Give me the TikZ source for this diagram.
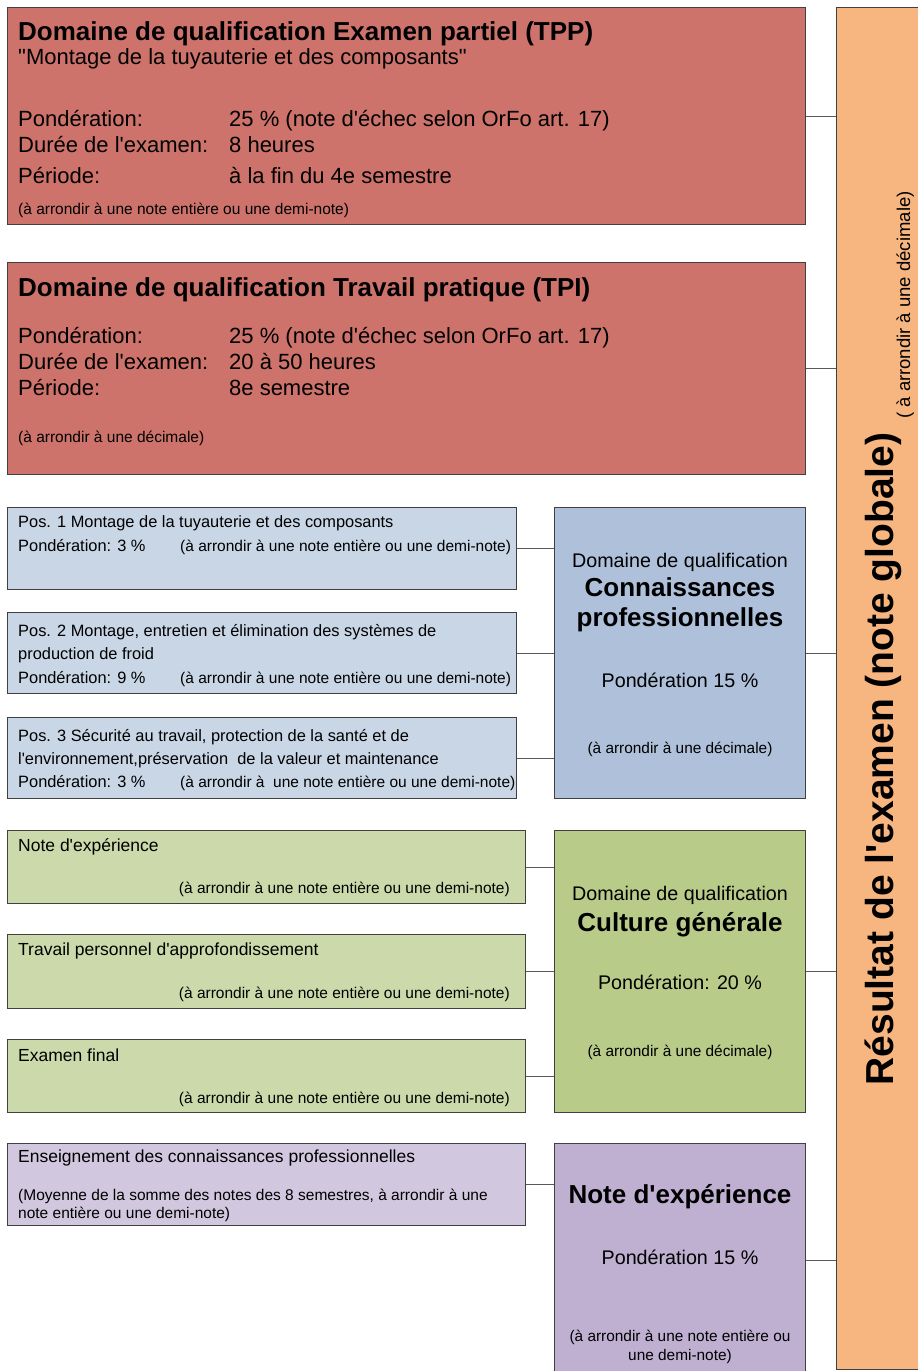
\documentclass[tikz,border=0pt]{standalone}
\usepackage{fontspec}
\setmainfont{Liberation Sans}[Ligatures=TeXOff]

\definecolor{tpred}{HTML}{CD736B}
\definecolor{resorange}{HTML}{F7B57F}
\definecolor{posblue}{HTML}{C9D6E6}
\definecolor{domblue}{HTML}{AFC1DA}
\definecolor{cgreen}{HTML}{CCDAAB}
\definecolor{domgreen}{HTML}{B8CB89}
\definecolor{expurple}{HTML}{D1C8DF}
\definecolor{dompurple}{HTML}{BFB0D2}

\begin{document}
\begin{tikzpicture}[
    x=1pt, y=-1pt,
    box/.style={rectangle, draw=black!75, line width=1.2pt, inner sep=0pt, anchor=north west},
    link/.style={draw=black!65, line width=1pt},
    head/.style={anchor=base west, inner sep=0pt, font=\fontsize{26}{30}\selectfont\bfseries},
    body/.style={anchor=base west, inner sep=0pt, font=\fontsize{22}{26}\selectfont},
    note/.style={anchor=base west, inner sep=0pt, font=\fontsize{15.5}{18}\selectfont},
    item/.style={anchor=base west, inner sep=0pt, font=\fontsize{17.5}{21}\selectfont},
    positem/.style={anchor=base west, inner sep=0pt, font=\fontsize{16.4}{20}\selectfont},
    domtxt/.style={anchor=base, inner sep=0pt, font=\fontsize{19.7}{23}\selectfont},
    domhead/.style={anchor=base, inner sep=0pt, font=\fontsize{26}{30}\selectfont\bfseries},
    domnote/.style={anchor=base, inner sep=0pt, font=\fontsize{15.4}{18}\selectfont}
]
\useasboundingbox (0,0) rectangle (918,1371);

% Result column
\node[box, fill=resorange, minimum width=100pt, minimum height=1362pt] (res) at (836,7) {};
\node[rotate=90, anchor=base, inner sep=0pt, font=\fontsize{39}{44}\selectfont\bfseries] (res-t) at (893,759) {Résultat de l'examen (note globale)};
\node[rotate=90, anchor=base, inner sep=0pt, font=\fontsize{18.5}{22}\selectfont] (res-n) at (910,305) {( à arrondir à une décimale)};

% TPP
\node[box, fill=tpred, minimum width=798pt, minimum height=217pt] (tpp) at (7,7) {};
\node[head] (tpp-t) at (18,40) {Domaine de qualification Examen partiel (TPP)};
\node[body] (tpp-s) at (18,64) {"Montage de la tuyauterie et des composants"};
\node[body] (tpp-a) at (18,126) {Pondération:};
\node[body] (tpp-b) at (18,152) {Durée de l'examen:};
\node[body] (tpp-c) at (18,183) {Période:};
\node[body] (tpp-av) at (229,126) {25 \% (note d'échec selon OrFo art. 17)};
\node[body] (tpp-bv) at (229,152) {8 heures};
\node[body] (tpp-cv) at (229,183) {à la fin du 4e semestre};
\node[note] (tpp-n) at (18,214) {(à arrondir à une note entière ou une demi-note)};

% TPI
\node[box, fill=tpred, minimum width=798pt, minimum height=212pt] (tpi) at (7,262) {};
\node[head] (tpi-t) at (18,296) {Domaine de qualification Travail pratique (TPI)};
\node[body] (tpi-a) at (18,343) {Pondération:};
\node[body] (tpi-b) at (18,369) {Durée de l'examen:};
\node[body] (tpi-c) at (18,395) {Période:};
\node[body] (tpi-av) at (229,343) {25 \% (note d'échec selon OrFo art. 17)};
\node[body] (tpi-bv) at (229,369) {20 à 50 heures};
\node[body] (tpi-cv) at (229,395) {8e semestre};
\node[note] (tpi-n) at (18,442) {(à arrondir à une décimale)};

% Connaissances professionnelles
\node[box, fill=posblue, minimum width=509pt, minimum height=82pt] (pos1) at (7,507) {};
\node[positem] (pos1-t) at (18,527) {Pos. 1 Montage de la tuyauterie et des composants};
\node[positem] (pos1-p) at (18,551) {Pondération: 3 \%};
\node[note] (pos1-n) at (180,551) {(à arrondir à une note entière ou une demi-note)};

\node[box, fill=posblue, minimum width=509pt, minimum height=81pt] (pos2) at (7,612) {};
\node[positem] (pos2-t) at (18,636) {Pos. 2 Montage, entretien et élimination des systèmes de};
\node[positem] (pos2-u) at (18,659) {production de froid};
\node[positem] (pos2-p) at (18,683) {Pondération: 9 \%};
\node[note] (pos2-n) at (180,683) {(à arrondir à une note entière ou une demi-note)};

\node[box, fill=posblue, minimum width=509pt, minimum height=81pt] (pos3) at (7,717) {};
\node[positem] (pos3-t) at (18,741) {Pos. 3 Sécurité au travail, protection de la santé et de};
\node[positem] (pos3-u) at (18,764) {l'environnement,préservation~ de la valeur et maintenance};
\node[positem] (pos3-p) at (18,787) {Pondération: 3 \%};
\node[note] (pos3-n) at (180,787) {(à arrondir à~ une note entière ou une demi-note)};

\node[box, fill=domblue, minimum width=251pt, minimum height=291pt] (ck) at (554,507) {};
\node[domtxt] (ck-a) at (680,567) {Domaine de qualification};
\node[domhead] (ck-b) at (680,596) {Connaissances};
\node[domhead] (ck-c) at (680,626) {professionnelles};
\node[domtxt] (ck-d) at (680,687) {Pondération 15 \%};
\node[domnote] (ck-e) at (680,753) {(à arrondir à une décimale)};

% Culture generale
\node[box, fill=cgreen, minimum width=518pt, minimum height=73pt] (cg1) at (7,830) {};
\node[item] (cg1-t) at (18,851) {Note d'expérience};
\node[note, anchor=base east] (cg1-n) at (510,893) {(à arrondir à une note entière ou une demi-note)};

\node[box, fill=cgreen, minimum width=518pt, minimum height=74pt] (cg2) at (7,934) {};
\node[item] (cg2-t) at (18,955) {Travail personnel d'approfondissement};
\node[note, anchor=base east] (cg2-n) at (510,998) {(à arrondir à une note entière ou une demi-note)};

\node[box, fill=cgreen, minimum width=518pt, minimum height=73pt] (cg3) at (7,1039) {};
\node[item] (cg3-t) at (18,1061) {Examen final};
\node[note, anchor=base east] (cg3-n) at (510,1103) {(à arrondir à une note entière ou une demi-note)};

\node[box, fill=domgreen, minimum width=251pt, minimum height=282pt] (cg) at (554,830) {};
\node[domtxt] (cg-a) at (680,900) {Domaine de qualification};
\node[domhead] (cg-b) at (680,931) {Culture générale};
\node[domtxt] (cg-d) at (680,989) {Pondération: 20 \%};
\node[domnote] (cg-e) at (680,1056) {(à arrondir à une décimale)};

% Note d'experience
\node[box, fill=expurple, minimum width=518pt, minimum height=82pt] (ens) at (7,1143) {};
\node[item] (ens-t) at (18,1162) {Enseignement des connaissances professionnelles};
\node[note] (ens-a) at (18,1200) {(Moyenne de la somme des notes des 8 semestres, à arrondir à une};
\node[note] (ens-b) at (18,1218) {note entière ou une demi-note)};

\node[box, fill=dompurple, minimum width=251pt, minimum height=234pt] (ne) at (554,1143) {};
\node[domhead] (ne-b) at (680,1203) {Note d'expérience};
\node[domtxt] (ne-d) at (680,1264) {Pondération 15 \%};
\node[domnote] (ne-e) at (680,1341) {(à arrondir à une note entière ou};
\node[domnote] (ne-f) at (680,1360) {une demi-note)};

% Connectors
\draw[link] (tpp.east) -- (tpp.east -| res.west);
\draw[link] (tpi.east) -- (tpi.east -| res.west);
\foreach \src in {pos1, pos2, pos3}
    \draw[link] (\src.east) -- (\src.east -| ck.west);
\foreach \src in {cg1, cg2, cg3}
    \draw[link] (\src.east) -- (\src.east -| cg.west);
\draw[link] (ens.east) -- (ens.east -| ne.west);
\draw[link] (ck.east) -- (ck.east -| res.west);
\draw[link] (cg.east) -- (cg.east -| res.west);
\draw[link] (ne.east) -- (ne.east -| res.west);

\end{tikzpicture}
\end{document}
